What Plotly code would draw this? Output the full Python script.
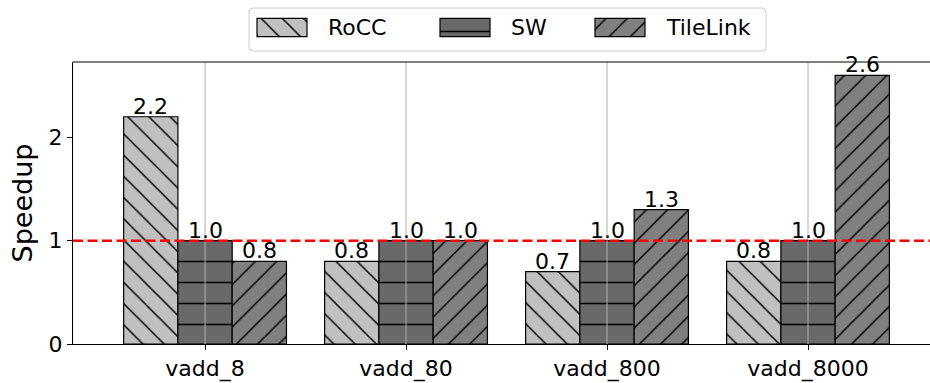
import plotly.graph_objects as go

# ---- data ----
categories = ["vadd_8", "vadd_80", "vadd_800", "vadd_8000"]
series_names = ["RoCC", "SW", "TileLink"]
rocc = [2.2, 0.8, 0.7, 0.8]
sw = [1.0, 1.0, 1.0, 1.0]
tilelink = [0.8, 1.0, 1.3, 2.6]
y_ticks = [0, 1, 2]
baseline = 1.0

series_values = {"RoCC": rocc, "SW": sw, "TileLink": tilelink}

# ---- styles ----
# hatch tile size per series (diagonal tiles are drawn larger by plotly)
styles = {
    "RoCC": dict(color="#c0c0c0", shape="\\", size=15, solidity=0.1),
    "SW": dict(color="#696969", shape="-", size=21, solidity=0.075),
    "TileLink": dict(color="#808080", shape="/", size=15, solidity=0.1),
}
FONT = "DejaVu Sans"
W, H = 930, 383
ML, MB = 73, 39
PLOT_TOP = 62                      # pixel row of the top spine
PAPER_H = H - MB                   # paper height (top margin is zero)
main_top = (PAPER_H - PLOT_TOP) / PAPER_H
BARGAP = 0.19
bar_w = (1 - BARGAP) / len(series_names)

# legend strip geometry (pixels from the top-left of the paper)
LEG_BOTTOM = 58
leg_box = dict(x0=249, x1=766, y0=8, y1=51, r=4)
leg_swatch_left = [257, 440, 595]
leg_swatch_w, leg_swatch_top, leg_swatch_h = 50, 18.3, 18.4
leg_text_pad = 19


def pattern(name):
    st = styles[name]
    return dict(shape=st["shape"], fgcolor="black", bgcolor=st["color"],
                size=st["size"], solidity=st["solidity"], fillmode="replace")


fig = go.Figure()

for j, name in enumerate(series_names):
    vals = series_values[name]
    fig.add_trace(go.Bar(
        x=categories, y=vals, name=name,
        marker=dict(color=styles[name]["color"],
                    line=dict(color="black", width=1.2),
                    pattern=pattern(name)),
        showlegend=False,
        xaxis="x", yaxis="y",
    ))
    # value labels sitting on top of each bar
    offset = (j - (len(series_names) - 1) / 2) * bar_w
    for i, v in enumerate(vals):
        fig.add_annotation(
            x=i + offset, y=v, xref="x", yref="y",
            text=f"{v:.1f}", showarrow=False,
            xanchor="center", yanchor="bottom", yshift=-4,
            font=dict(family=FONT, size=22, color="black"),
        )

# legend swatches drawn as small hatched bars on a pixel-unit helper axis
for i, name in enumerate(series_names):
    fig.add_trace(go.Bar(
        x=[leg_swatch_left[i] + leg_swatch_w / 2], y=[leg_swatch_h],
        base=[leg_swatch_top], width=[leg_swatch_w],
        marker=dict(color=styles[name]["color"],
                    line=dict(color="black", width=1.2),
                    pattern=pattern(name)),
        showlegend=False, hoverinfo="skip",
        xaxis="x2", yaxis="y2",
    ))
    fig.add_annotation(
        x=leg_swatch_left[i] + leg_swatch_w + leg_text_pad,
        y=leg_swatch_top + leg_swatch_h / 2,
        xref="x2", yref="y2", text=name, showarrow=False,
        xanchor="left", yanchor="middle",
        font=dict(family=FONT, size=22, color="black"),
    )

# legend frame with rounded corners
b = leg_box
r = b["r"]
frame_path = (
    f"M{b['x0']+r},{b['y0']} H{b['x1']-r} Q{b['x1']},{b['y0']} {b['x1']},{b['y0']+r} "
    f"V{b['y1']-r} Q{b['x1']},{b['y1']} {b['x1']-r},{b['y1']} "
    f"H{b['x0']+r} Q{b['x0']},{b['y1']} {b['x0']},{b['y1']-r} "
    f"V{b['y0']+r} Q{b['x0']},{b['y0']} {b['x0']+r},{b['y0']} Z"
)
fig.add_shape(type="path", path=frame_path, xref="x2", yref="y2",
              line=dict(color="#cccccc", width=1), fillcolor="white",
              layer="below")

# vertical grid lines drawn over the bars
for c in categories:
    fig.add_shape(type="line", xref="x", yref="y domain",
                  x0=c, x1=c, y0=0, y1=1,
                  line=dict(color="#b0b0b0", width=1), layer="above")

# reference speedup line
fig.add_shape(type="line", xref="x domain", yref="y",
              x0=0, x1=1, y0=baseline, y1=baseline,
              line=dict(color="red", width=2.5, dash="10px,4.5px"),
              layer="above")

# top spine
fig.add_shape(type="line", xref="paper", yref="y domain",
              x0=0, x1=1, y0=1, y1=1,
              line=dict(color="black", width=1), layer="above")

fig.update_layout(
    width=W, height=H,
    margin=dict(l=ML, r=0, t=0, b=MB, pad=0),
    paper_bgcolor="white", plot_bgcolor="white",
    barmode="group", bargap=BARGAP, bargroupgap=0,
    font=dict(family=FONT, size=22, color="black"),
    showlegend=False,
    xaxis=dict(
        type="category", categoryorder="array", categoryarray=categories,
        range=[-0.657, 3.607], domain=[0, 1], anchor="y",
        showline=True, linecolor="black", linewidth=1,
        ticks="outside", ticklen=5, tickwidth=1, tickcolor="black",
        showgrid=False, zeroline=False,
        tickfont=dict(family=FONT, size=22, color="black"),
        fixedrange=True,
    ),
    yaxis=dict(
        range=[0, 2.73], domain=[0, main_top], anchor="x",
        tickvals=y_ticks, ticktext=[str(t) for t in y_ticks],
        showline=True, linecolor="black", linewidth=1,
        ticks="outside", ticklen=5, tickwidth=1, tickcolor="black",
        showgrid=False, zeroline=False,
        tickfont=dict(family=FONT, size=22, color="black"),
        title=dict(text="Speedup", standoff=8,
                   font=dict(family=FONT, size=27, color="black")),
        fixedrange=True,
    ),
    xaxis2=dict(domain=[0, 1], range=[ML, W], anchor="y2",
                visible=False, fixedrange=True),
    yaxis2=dict(domain=[(PAPER_H - LEG_BOTTOM) / PAPER_H, 1],
                range=[LEG_BOTTOM, 0], anchor="x2",
                visible=False, fixedrange=True),
)

fig.write_html("out.html", config={"displayModeBar": False})
